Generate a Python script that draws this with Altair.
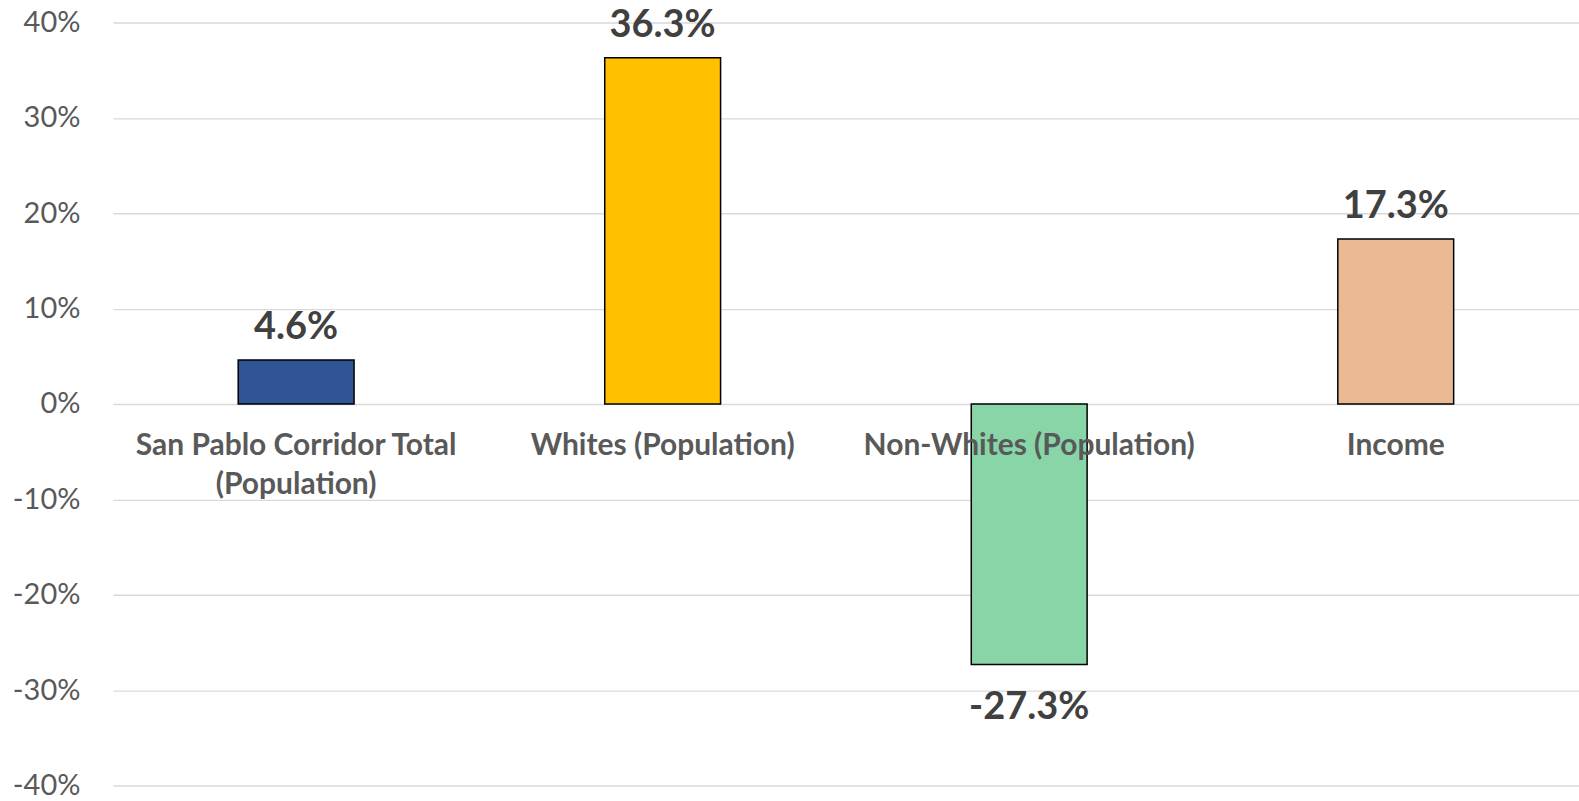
import altair as alt
import pandas as pd

# Percent change by group
categories = [
    "San Pablo Corridor Total\n(Population)",
    "Whites (Population)",
    "Non-Whites (Population)",
    "Income",
]
changes = [0.046, 0.363, -0.273, 0.173]
bar_colors = ["#2F5597", "#FFC000", "#88D5A8", "#EAB892"]

y_ticks = [-0.4, -0.3, -0.2, -0.1, 0.0, 0.1, 0.2, 0.3, 0.4]

df = pd.DataFrame({"category": categories, "change": changes, "color": bar_colors})

FONT = "Lato"

x_enc = alt.X("category:N", sort=categories, axis=None,
              scale=alt.Scale(paddingInner=0, paddingOuter=0))
y_scale = alt.Scale(domain=[-0.4, 0.4], nice=False, zero=False)

base = alt.Chart(df)

bars = base.mark_bar(width=116, stroke="black", strokeWidth=1.5).encode(
    x=x_enc,
    y=alt.Y("change:Q", scale=y_scale,
            axis=alt.Axis(values=y_ticks, format=".0%",
                          labelExpr="replace(datum.label, '\u2212', '-')",
                          title=None, domain=False, ticks=False,
                          labelPadding=33, labelFontSize=29, labelColor="#595959",
                          labelFont=FONT, grid=True, gridColor="#d9d9d9",
                          gridWidth=1.4)),
    y2=alt.datum(0),
    color=alt.Color("color:N", scale=None, legend=None),
)

value_text = base.transform_calculate(
    label="replace(format(datum.change, '.1%'), '\u2212', '-')"
)

pos_labels = value_text.transform_filter("datum.change >= 0").mark_text(
    font=FONT, fontSize=38, fontWeight="bold", color="#404040",
    baseline="alphabetic", dy=-21,
).encode(x=x_enc, y=alt.Y("change:Q", scale=y_scale), text="label:N")

neg_labels = value_text.transform_filter("datum.change < 0").mark_text(
    font=FONT, fontSize=38, fontWeight="bold", color="#404040",
    baseline="alphabetic", dy=55,
).encode(x=x_enc, y=alt.Y("change:Q", scale=y_scale), text="label:N")

cat_labels = base.mark_text(
    font=FONT, fontSize=30, fontWeight="bold", color="#595959",
    baseline="alphabetic", dy=51, lineBreak="\n", lineHeight=39,
).encode(x=x_enc, y=alt.datum(0, scale=y_scale), text="category:N")

chart = alt.layer(bars, pos_labels, neg_labels, cat_labels).properties(
    width=1468,
    height=764,
    padding={"left": 113, "top": 22, "right": 0, "bottom": 15},
    autosize=alt.AutoSizeParams(type="none"),
    background="white",
).configure_view(stroke=None)

chart.save("out.html", embed_options={"renderer": "svg", "actions": False})
